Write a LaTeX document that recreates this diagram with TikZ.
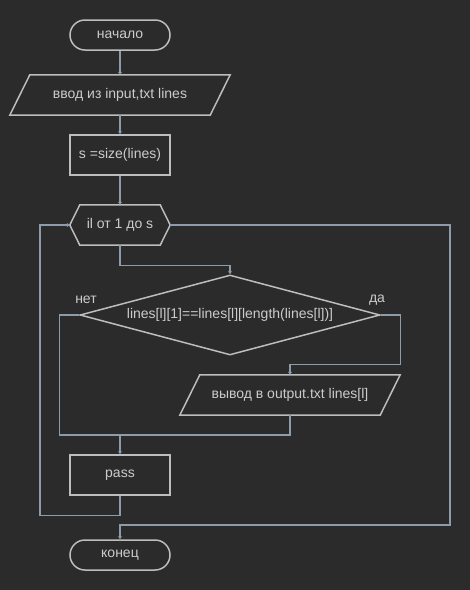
\documentclass[tikz,border=0pt]{standalone}
\usepackage{fontspec}
\setmainfont{Liberation Sans}
\usetikzlibrary{shapes.geometric,arrows.meta,calc}
\definecolor{bg}{HTML}{2B2B2B}
\definecolor{shape}{HTML}{BDBDBD}
\definecolor{wire}{HTML}{8E9BAB}
\definecolor{txt}{HTML}{CCCCCC}
\begin{document}
\begin{tikzpicture}[x=1pt,y=-1pt,
  every node/.style={text=txt,font=\fontsize{14pt}{16pt}\selectfont,inner sep=0pt},
  term/.style={draw=shape,line width=1.5pt,rounded corners=15pt,minimum width=100pt,minimum height=30pt},
  proc/.style={draw=shape,line width=1.5pt,minimum width=100pt,minimum height=40pt},
  body/.style={minimum height=40pt},
  outline/.style={draw=shape,line width=1.5pt,line join=miter},
  cond/.style={diamond,draw=shape,line width=1.5pt,aspect=3.75,minimum width=300pt,minimum height=80pt},
  wire/.style={draw=wire,line width=1.3pt},
  flow/.style={wire,-{Latex[length=3pt,width=4.5pt]}},
  lbl/.style={text=txt}]
% background
\fill[bg] (0,0) rectangle (470,590);
\useasboundingbox (0,0) rectangle (470,590);

% nodes
\node[term] (start) at (120,35) {начало};
\node[body,minimum width=200pt] (in) at (120,95) {ввод из input,txt lines};
\draw[outline] ($(in.north west)+(10,0)$) -- ($(in.north east)+(10,0)$)
  -- ($(in.south east)+(-10,0)$) -- ($(in.south west)+(-10,0)$) -- cycle;
\node[proc] (size) at (120,155) {s =size(lines)};
\node[body,minimum width=100pt] (loop) at (120,225) {il от 1 до s};
\draw[outline] (loop.west) -- ($(loop.north west)+(10,0)$) -- ($(loop.north east)+(-10,0)$)
  -- (loop.east) -- ($(loop.south east)+(-10,0)$) -- ($(loop.south west)+(10,0)$) -- cycle;
\node[cond] (chk) at (230,315) {lines[l][1]==lines[l][length(lines[l])]};
\node[lbl] (no) at (86,300) {нет};
\node[lbl] (yes) at (377,300) {да};
\node[body,minimum width=200pt] (out) at (290,395) {вывод в output.txt lines[l]};
\draw[outline] ($(out.north west)+(10,0)$) -- ($(out.north east)+(10,0)$)
  -- ($(out.south east)+(-10,0)$) -- ($(out.south west)+(-10,0)$) -- cycle;
\node[proc] (pass) at (120,475) {pass};
\node[term] (end) at (120,555) {конец};

% connectors
\draw[flow] (start.south) -- (in.north);
\draw[flow] (in.south) -- (size.north);
\draw[flow] (size.south) -- (loop.north);
\draw[flow] (loop.south) -- ++(0,20) -| (chk.north);
\draw[flow] (chk.east) -- ++(20,0) |- ($(out.north)+(0,-10)$) -- (out.north);
\draw[wire] (chk.west) -- ++(-20,0) |- (120,435);
\draw[wire] (out.south) |- (120,435);
\draw[flow] (120,435) -- (pass.north);
\draw[flow] (pass.south) -- ++(0,20) -| (40,225) -- (loop.west);
\draw[flow] (loop.east) -- (450,225) |- (120,525) -- (end.north);
\end{tikzpicture}
\end{document}
